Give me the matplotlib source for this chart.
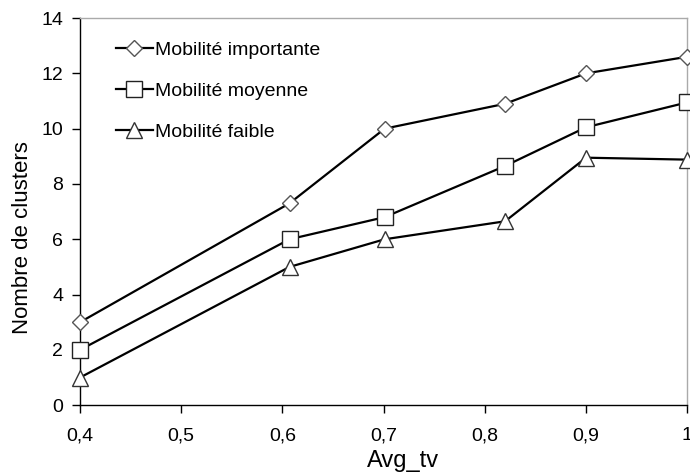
import matplotlib
matplotlib.use("Agg")
import matplotlib.pyplot as plt
from matplotlib.ticker import FuncFormatter

plt.rcParams['font.family'] = ['Liberation Sans', 'DejaVu Sans']

x = [0.4, 0.607, 0.701, 0.82, 0.9, 1.0]
importante = [3.0, 7.3, 10.0, 10.9, 12.0, 12.6]
moyenne = [2.0, 6.0, 6.8, 8.65, 10.05, 10.95]
faible = [1.0, 5.0, 6.0, 6.65, 8.95, 8.88]
labels = ["Mobilité importante", "Mobilité moyenne", "Mobilité faible"]
xticks = [0.4, 0.5, 0.6, 0.7, 0.8, 0.9, 1.0]
yticks = [0, 2, 4, 6, 8, 10, 12, 14]

fig = plt.figure(figsize=(6.9, 4.75), dpi=100)
ax = fig.add_axes([0.116, 0.147, 0.88, 0.815])

ax.plot(x, importante, color='black', lw=1.6, marker='D', markersize=8,
        markerfacecolor='white', markeredgecolor='#555555', markeredgewidth=1.0,
        label=labels[0], clip_on=False, zorder=3)
ax.plot(x, moyenne, color='black', lw=1.6, marker='s', markersize=11.5,
        markerfacecolor='white', markeredgecolor='#222222', markeredgewidth=1.0,
        label=labels[1], clip_on=False, zorder=3)
ax.plot(x, faible, color='black', lw=1.6, marker='^', markersize=12,
        markerfacecolor='white', markeredgecolor='#333333', markeredgewidth=1.0,
        label=labels[2], clip_on=False, zorder=3)

ax.set_xlim(0.4, 1.0)
ax.set_ylim(0, 14)
ax.set_xticks(xticks)
ax.set_yticks(yticks)
ax.xaxis.set_major_formatter(FuncFormatter(lambda v, p: ('%g' % v).replace('.', ',')))
ax.tick_params(axis='both', direction='out', length=6, width=1, labelsize=14, colors='black')
ax.tick_params(axis='x', pad=10)
ax.tick_params(axis='y', pad=6)

for s in ['left', 'bottom']:
    ax.spines[s].set_color('black')
    ax.spines[s].set_linewidth(1.0)
for s in ['top', 'right']:
    ax.spines[s].set_color('#aaaaaa')
    ax.spines[s].set_linewidth(1.0)

ax.set_xlabel("Avg_tv", fontsize=17)
ax.set_ylabel("Nombre de clusters", fontsize=16)
ax.xaxis.set_label_coords(0.532, -0.115)
ax.yaxis.set_label_coords(-0.077, 0.434)

leg = ax.legend(loc='upper left', bbox_to_anchor=(0.03, 0.985), frameon=False,
                fontsize=14, handlelength=1.9, handletextpad=0.1, labelspacing=1.2)

fig.savefig("out.png", dpi=100)
